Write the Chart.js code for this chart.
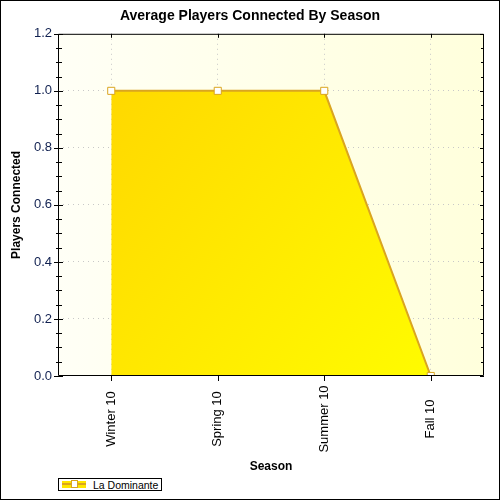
<!DOCTYPE html>
<html>
<head>
<meta charset="utf-8">
<script src="https://cdn.jsdelivr.net/npm/chart.js@4/dist/chart.umd.min.js"></script>
<style>
    html, body { margin: 0; padding: 0; background: #fff; }
    #wrap { position: relative; width: 500px; height: 500px; box-sizing: border-box; }
    #frame { position: absolute; left: 0; top: 0; width: 498px; height: 498px; border: 1px solid #000; pointer-events: none; }
    .legend { position: absolute; left: 58px; top: 478px; width: 102px; height: 11px; border: 1px solid #000; white-space: nowrap;
        font: 10.5px 'Liberation Sans', Arial, sans-serif; color: #000; display: flex; align-items: center; background: #fff; overflow: hidden; }
    .legend__icon { position: relative; flex: none; width: 24px; height: 7px; margin-left: 3px; background: #ffe600; }
    .legend__icon::before { content: ''; position: absolute; left: 0; right: 0; top: 2px; height: 2px; background: #daa520; }
    .legend__icon::after { content: ''; position: absolute; left: 9px; top: -1px; width: 5px; height: 6px; background: #fff; border: 1px solid #daa520; }
    .legend__text { margin-left: 7px; }
</style>
</head>
<body>
<div id="wrap">
    <canvas id="chart" width="500" height="500"></canvas>
    <div id="frame"></div>
    <div class="legend"><span class="legend__icon"></span><span class="legend__text">La Dominante</span></div>
</div>
<script>
const seasons = ['Winter 10', 'Spring 10', 'Summer 10', 'Fall 10'];
const playersConnected = [1.0, 1.0, 1.0, 0.0];
const seriesName = 'La Dominante';
const yMin = 0, yMax = 1.2, yMajor = 0.2, yMinor = 0.05;

const isMajor = v => Math.abs(v / yMajor - Math.round(v / yMajor)) < 1e-6;

// plot background + hand-drawn tick marks and centred rotated x labels
const framePlugin = {
    id: 'frame',
    beforeDraw(chart) {
        const { ctx, chartArea: a } = chart;
        const g = ctx.createLinearGradient(a.left, 0, a.right, 0);
        g.addColorStop(0, '#fffff6');
        g.addColorStop(1, '#ffffdc');
        ctx.save();
        ctx.fillStyle = g;
        ctx.fillRect(a.left, a.top, a.right - a.left, a.bottom - a.top);
        ctx.restore();
    },
    afterDraw(chart) {
        const { ctx, chartArea: a } = chart;
        const x = chart.scales.x, y = chart.scales.y;
        ctx.save();
        ctx.strokeStyle = '#000';
        ctx.lineWidth = 1;
        ctx.beginPath();
        ctx.rect(a.left + 0.5, a.top + 0.5, a.right - a.left - 1, a.bottom - a.top - 1);
        y.ticks.forEach(t => {
            const py = Math.round(y.getPixelForValue(t.value)) + 0.5;
            const big = isMajor(t.value);
            ctx.moveTo(a.left - (big ? 4 : 2), py);
            ctx.lineTo(a.left + (big ? 5 : 4), py);
            ctx.moveTo(a.right - (big ? 4 : 3), py);
            ctx.lineTo(a.right, py);
        });
        seasons.forEach((s, i) => {
            const px = Math.round(x.getPixelForTick(i)) + 0.5;
            ctx.moveTo(px, a.bottom);
            ctx.lineTo(px, a.bottom + 5);
            ctx.moveTo(px, a.top);
            ctx.lineTo(px, a.top + 4);
        });
        ctx.stroke();

        ctx.fillStyle = '#000';
        ctx.font = "13px 'Liberation Sans', Arial, sans-serif";
        ctx.textAlign = 'center';
        ctx.textBaseline = 'middle';
        seasons.forEach((s, i) => {
            ctx.save();
            ctx.translate(x.getPixelForTick(i), x.top + 43);
            ctx.rotate(-Math.PI / 2);
            ctx.fillText(s, 0, 0);
            ctx.restore();
        });
        ctx.restore();
    }
};

new Chart(document.getElementById('chart'), {
    type: 'line',
    data: {
        labels: seasons,
        datasets: [{
            label: seriesName,
            data: playersConnected,
            borderColor: '#daa520',
            borderWidth: 2,
            fill: 'origin',
            backgroundColor: (c) => {
                const a = c.chart.chartArea;
                if (!a) return '#ffe600';
                const g = c.chart.ctx.createLinearGradient(a.left, a.top, a.right, a.bottom);
                g.addColorStop(0, '#ffd200');
                g.addColorStop(1, '#ffff00');
                return g;
            },
            tension: 0,
            pointStyle: 'rect',
            pointRadius: 5,
            pointBorderWidth: 1,
            pointBorderColor: '#daa520',
            pointBackgroundColor: '#ffffff'
        }]
    },
    options: {
        responsive: false,
        animation: false,
        events: [],
        layout: { padding: { left: 0, right: 0, top: 0, bottom: 24 } },
        plugins: {
            legend: { display: false },
            tooltip: { enabled: false },
            title: {
                display: true,
                text: 'Average Players Connected By Season',
                color: '#000',
                font: { family: "'Liberation Sans', Arial, sans-serif", size: 14, weight: 'bold' },
                padding: { top: 8, bottom: 9 }
            }
        },
        scales: {
            x: {
                type: 'category',
                offset: true,
                grid: { offset: false, color: '#c8c8c8', drawTicks: false },
                border: { display: false, dash: [1, 4] },
                ticks: { display: false },
                title: {
                    display: true,
                    text: 'Season',
                    color: '#000',
                    font: { family: "'Liberation Sans', Arial, sans-serif", size: 12, weight: 'bold' },
                    padding: { top: 0, bottom: 2 }
                },
                afterFit: s => { s.height = 100; }
            },
            y: {
                min: yMin,
                max: yMax,
                grid: {
                    drawTicks: false,
                    color: c => (c.tick && isMajor(c.tick.value) && c.tick.value > yMin && c.tick.value < yMax) ? '#c8c8c8' : 'transparent'
                },
                border: { display: false, dash: [1, 4] },
                ticks: {
                    stepSize: yMinor,
                    autoSkip: false,
                    padding: 6,
                    color: '#102050',
                    font: { family: "'Liberation Sans', Arial, sans-serif", size: 13 },
                    callback: v => isMajor(v) ? v.toFixed(1) : ''
                },
                title: {
                    display: true,
                    text: 'Players Connected',
                    color: '#000',
                    font: { family: "'Liberation Sans', Arial, sans-serif", size: 12, weight: 'bold' },
                    padding: { top: 9, bottom: 0 }
                },
                afterFit: s => { s.width = 58; }
            },
            yRight: {
                position: 'right',
                min: yMin,
                max: yMax,
                grid: { drawOnChartArea: false, drawTicks: false },
                border: { display: false },
                ticks: { display: false },
                afterFit: s => { s.width = 16; }
            }
        }
    },
    plugins: [framePlugin]
});
</script>
</body>
</html>
